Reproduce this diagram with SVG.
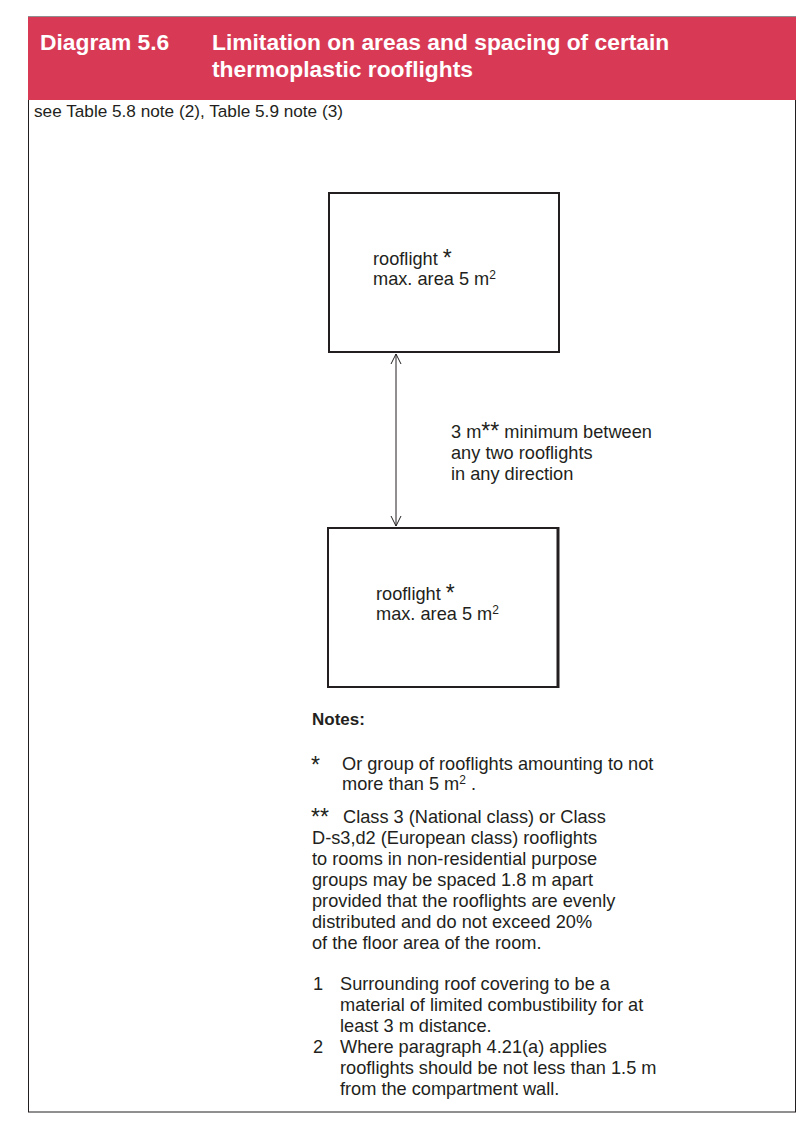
<svg xmlns="http://www.w3.org/2000/svg" width="812" height="1133" viewBox="0 0 812 1133">
<defs>
<style>
.t{font-family:"Liberation Sans",Arial,sans-serif;font-size:18.2px;fill:#231f20}
.h{font-family:"Liberation Sans",Arial,sans-serif;font-size:22.8px;font-weight:bold;fill:#ffffff}
.b{font-weight:bold}
.ast{font-size:23px}
.sup{font-size:12px}
.box{fill:none;stroke:#231f20;stroke-width:2}
.ar{fill:none;stroke:#231f20;stroke-width:1}
</style>
<marker id="open" viewBox="0 0 12 12" refX="11" refY="6" markerWidth="12" markerHeight="12" markerUnits="userSpaceOnUse" orient="auto-start-reverse">
<path d="M1,1 L11,6 L1,11" fill="none" stroke="#231f20" stroke-width="1"/>
</marker>
</defs>
<rect x="0" y="0" width="812" height="1133" fill="#ffffff"/>
<g id="frame">
<rect x="28.5" y="17" width="767" height="1095" fill="none" stroke="#231f20" stroke-width="1"/>
<rect x="28" y="17" width="768" height="83" fill="#d83a56"/>
<text class="h" x="40" y="50">Diagram 5.6</text>
<text class="h" x="212" y="50">Limitation on areas and spacing of certain</text>
<text class="h" x="212" y="77">thermoplastic rooflights</text>
<text class="t" x="34" y="117" style="font-size:17.2px">see Table 5.8 note (2), Table 5.9 note (3)</text>
</g>
<g id="rooflight1">
<rect class="box" x="329" y="193" width="230" height="159"/>
<text class="t" x="373" y="265">rooflight <tspan class="ast" dy="1">*</tspan></text>
<text class="t" x="373" y="285">max. area 5 m<tspan class="sup" dy="-6">2</tspan></text>
</g>
<g id="rooflight2">
<rect class="box" x="328" y="528" width="230" height="159"/>
<line x1="558" y1="527" x2="558" y2="688" stroke="#231f20" stroke-width="3"/>
<text class="t" x="376" y="600">rooflight <tspan class="ast" dy="1">*</tspan></text>
<text class="t" x="376" y="620">max. area 5 m<tspan class="sup" dy="-6">2</tspan></text>
</g>
<g id="connectors">
<line class="ar" x1="396" y1="354" x2="396" y2="526" marker-start="url(#open)" marker-end="url(#open)"/>
</g>
<g id="spacing-label">
<text class="t" x="451" y="438">3 m<tspan class="ast" dy="1">**</tspan><tspan dy="-1"> minimum between</tspan></text>
<text class="t" x="451" y="459">any two rooflights</text>
<text class="t" x="451" y="480">in any direction</text>
</g>
<g id="notes">
<text class="t b" x="312" y="725" style="font-size:17px">Notes:</text>
<text class="t ast" x="311" y="773">*</text>
<text class="t" x="342" y="770">Or group of rooflights amounting to not</text>
<text class="t" x="342" y="790">more than 5 m<tspan class="sup" dy="-6">2</tspan><tspan dy="6"> .</tspan></text>
<text class="t ast" x="311" y="825">**</text>
<text class="t" x="343" y="823">Class 3 (National class) or Class</text>
<text class="t" x="312" y="844">D-s3,d2 (European class) rooflights</text>
<text class="t" x="312" y="865">to rooms in non-residential purpose</text>
<text class="t" x="312" y="886">groups may be spaced 1.8 m apart</text>
<text class="t" x="312" y="907">provided that the rooflights are evenly</text>
<text class="t" x="312" y="928">distributed and do not exceed 20%</text>
<text class="t" x="312" y="949">of the floor area of the room.</text>
<text class="t" x="313" y="990">1</text>
<text class="t" x="340" y="990">Surrounding roof covering to be a</text>
<text class="t" x="340" y="1011">material of limited combustibility for at</text>
<text class="t" x="340" y="1032">least 3 m distance.</text>
<text class="t" x="313" y="1053">2</text>
<text class="t" x="340" y="1053">Where paragraph 4.21(a) applies</text>
<text class="t" x="340" y="1074">rooflights should be not less than 1.5 m</text>
<text class="t" x="340" y="1095">from the compartment wall.</text>
</g>
</svg>
